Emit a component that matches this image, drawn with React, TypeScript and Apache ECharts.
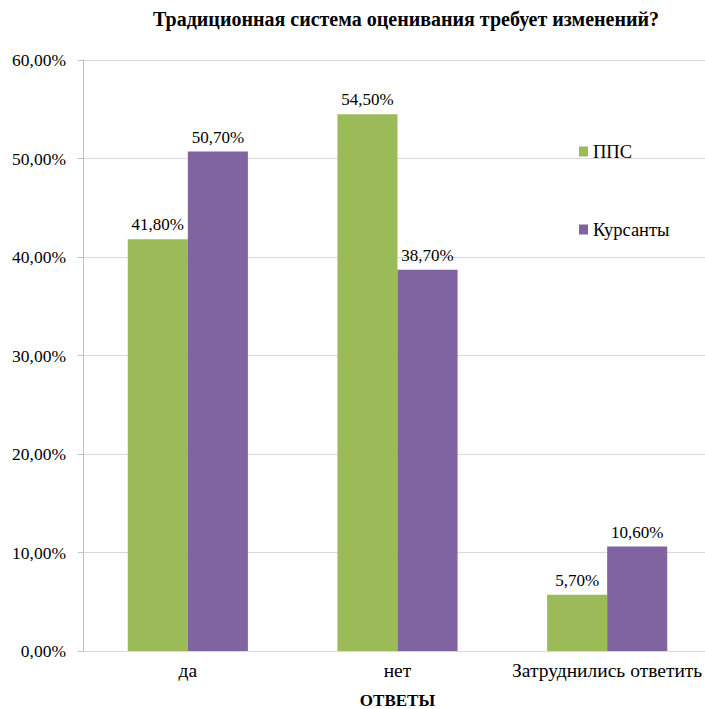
import React, { useEffect, useRef } from "react";
import * as echarts from "echarts";

const TITLE = "Традиционная система оценивания требует изменений?";
const CATEGORIES = ["да", "нет", "Затруднились ответить"];
const SERIES_NAMES = ["ППС", "Курсанты"];
const PPS_VALUES = [41.8, 54.5, 5.7];
const CADET_VALUES = [50.7, 38.7, 10.6];
const X_AXIS_NAME = "ОТВЕТЫ";

const FONT = "Liberation Serif, serif";
const fmt = (v: number) => v.toFixed(2).replace(".", ",") + "%";

export default function App() {
  const ref = useRef<HTMLDivElement>(null);
  useEffect(() => {
    if (!ref.current) return;
    const chart = echarts.init(ref.current, null, { renderer: "svg" });
    const label = {
      show: true,
      position: "top" as const,
      distance: 6,
      fontFamily: FONT,
      fontSize: 17,
      color: "#000",
      formatter: (p: any) => fmt(p.value),
    };
    chart.setOption({
      animation: false,
      backgroundColor: "#fff",
      textStyle: { fontFamily: FONT },
      title: {
        text: TITLE,
        left: 401,
        textAlign: "center",
        top: 4,
        textStyle: { fontFamily: FONT, fontSize: 20, fontWeight: "bold", color: "#000" },
      },
      legend: {
        orient: "vertical",
        left: 574,
        top: 137,
        itemWidth: 9,
        itemHeight: 10,
        itemGap: 59,
        icon: "rect",
        textStyle: { fontFamily: FONT, fontSize: 18.5, color: "#000" },
        data: SERIES_NAMES,
      },
      grid: {
        left: 83,
        right: 0,
        top: 60,
        bottom: 58,
        containLabel: false,
        outerBoundsMode: "none",
      },
      xAxis: {
        type: "category",
        data: CATEGORIES,
        axisLine: { show: true, lineStyle: { color: "#d9d9d9" } },
        axisTick: { show: false },
        axisLabel: { fontFamily: FONT, fontSize: 19.5, color: "#000", margin: 9, interval: 0 },
        name: X_AXIS_NAME,
        nameLocation: "middle",
        nameGap: 41,
        nameTextStyle: { fontFamily: FONT, fontSize: 17, fontWeight: "bold", color: "#000" },
      },
      yAxis: {
        type: "value",
        min: 0,
        max: 60,
        interval: 10,
        axisLine: { show: true, lineStyle: { color: "#bfbfbf" } },
        axisTick: { show: true, length: 5, lineStyle: { color: "#bfbfbf" } },
        splitLine: { show: true, lineStyle: { color: "#d9d9d9" } },
        axisLabel: {
          fontFamily: FONT,
          fontSize: 17.5,
          color: "#000",
          margin: 17,
          formatter: (v: number) => fmt(v),
        },
      },
      series: [
        {
          name: SERIES_NAMES[0],
          type: "bar",
          data: PPS_VALUES,
          itemStyle: { color: "#9bbb59" },
          barGap: "0%",
          barCategoryGap: "42.7%",
          label,
        },
        {
          name: SERIES_NAMES[1],
          type: "bar",
          data: CADET_VALUES,
          itemStyle: { color: "#8064a2" },
          barGap: "0%",
          barCategoryGap: "42.7%",
          label,
        },
      ],
    });
    return () => chart.dispose();
  }, []);
  return (
    <div style={{ position: "absolute", left: 0, top: 0, width: 705, height: 709, overflow: "hidden" }}>
      <div ref={ref} style={{ width: 712, height: 709 }} />
    </div>
  );
}
